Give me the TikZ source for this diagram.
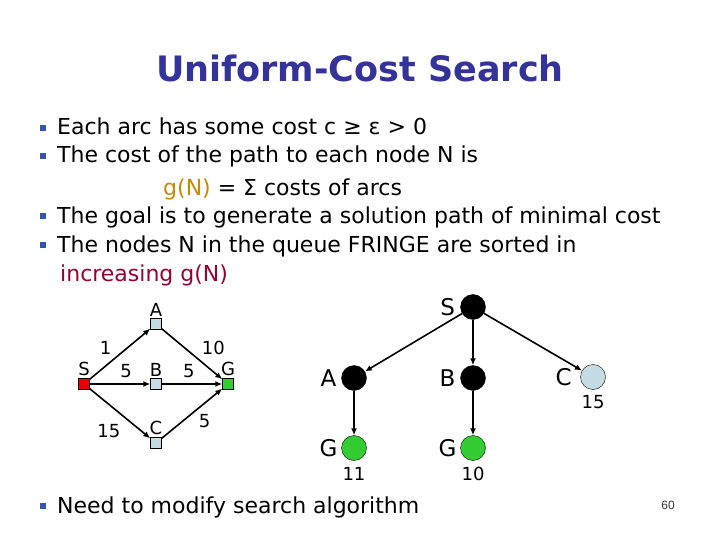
\documentclass[tikz,border=0pt]{standalone}
\usepackage{fontspec}
\setmainfont{DejaVu Sans}
\newfontfamily\pagefont{Liberation Sans}
\usetikzlibrary{arrows.meta}

\definecolor{titleblue}{HTML}{333399}
\definecolor{bulletblue}{HTML}{3355AA}
\definecolor{gncolor}{HTML}{CC8800}
\definecolor{incrcolor}{HTML}{990033}
\definecolor{boxblue}{HTML}{C6DCE4}
\definecolor{goalgreen}{HTML}{33CC33}
\definecolor{startred}{HTML}{EE0000}

\tikzset{
  bulletsq/.style={fill=bulletblue,minimum size=6pt,inner sep=0pt},
  textline/.style={anchor=base west,inner sep=0pt,font=\fontsize{22}{26}\selectfont},
  lbl/.style={inner sep=0pt,font=\fontsize{18}{21}\selectfont},
  tlbl/.style={inner sep=0pt,font=\fontsize{23}{27}\selectfont},
  num/.style={inner sep=0pt,font=\fontsize{18}{21}\selectfont},
  arc/.style={draw,line width=1.6pt,-{Latex[length=7pt,width=6pt]}}
}

\begin{document}
\begin{tikzpicture}[x=1pt,y=-1pt]
  \useasboundingbox (0,0) rectangle (720,540);

  \node[text=titleblue,font=\fontsize{35}{41}\bfseries\selectfont] (title) at (360,68) {Uniform-Cost Search};

  % bullets
  \node[bulletsq] (b1) at (43,128) {};
  \node[textline] (t1) at (57,135) {Each arc has some cost c ≥ ε > 0};
  \node[bulletsq] (b2) at (43,156) {};
  \node[textline] (t2) at (57,163) {The cost of the path to each node N is};
  \node[textline] (t3) at (163,196) {\textcolor{gncolor}{g(N)} = Σ costs of arcs};
  \node[bulletsq] (b4) at (43,216) {};
  \node[textline] (t4) at (57,223) {The goal is to generate a solution path of minimal cost};
  \node[bulletsq] (b5) at (43,245) {};
  \node[textline] (t5) at (57,252) {The nodes N in the queue FRINGE are sorted in};
  \node[textline,text=incrcolor] (t6) at (60,281) {increasing g(N)};
  \node[bulletsq] (b7) at (43,506) {};
  \node[textline] (t7) at (57,513) {Need to modify search algorithm};
  \node[font=\pagefont\fontsize{12}{14}\selectfont,text=black!80] (page) at (668,505) {60};

  % state graph
  \begin{scope}[every node/.style={draw,minimum size=11pt,inner sep=0pt}]
    \node[fill=startred,label={[lbl,yshift=2pt]above:S}] (s) at (84,384) {};
    \node[fill=boxblue,label={[lbl,yshift=2pt]above:A}] (a) at (156,324) {};
    \node[fill=boxblue,label={[lbl,yshift=2pt]above:B}] (b) at (156,384) {};
    \node[fill=boxblue,label={[lbl,yshift=2pt]above:C}] (c) at (156,443) {};
    \node[fill=goalgreen,label={[lbl,yshift=2pt]above:G}] (g) at (228,384) {};
  \end{scope}

  \begin{scope}[every node/.style={lbl}]
    \path (s) edge[arc] node[pos=0.42,above left=3pt] {1} (a);
    \path (s) edge[arc] node[pos=0.6,above=5pt] {5} (b);
    \path (s) edge[arc] node[pos=0.6,below left=5pt] {15} (c);
    \path (a) edge[arc] node[pos=0.6,above right=3pt] {10} (g);
    \path (b) edge[arc] node[pos=0.45,above=5pt] {5} (g);
    \path (c) edge[arc] node[pos=0.55,below right=3pt] {5} (g);
  \end{scope}

  % search tree
  \begin{scope}[every node/.style={circle,draw,minimum size=25pt,inner sep=0pt}]
    \node[fill=black,label={[tlbl]left:S}] (ts) at (473,307) {};
    \node[fill=black,label={[tlbl]left:A}] (ta) at (354,378) {};
    \node[fill=black,label={[tlbl]left:B}] (tb) at (473,378) {};
    \node[fill=boxblue,label={[tlbl,xshift=-4pt]left:C},label={[num,yshift=1pt]below:15}] (tc) at (593,377) {};
    \node[fill=goalgreen,label={[tlbl]left:G},label={[num]below:11}] (tg1) at (354,448) {};
    \node[fill=goalgreen,label={[tlbl]left:G},label={[num]below:10}] (tg2) at (473,448) {};
  \end{scope}

  \path (ts) edge[arc] (ta);
  \path (ts) edge[arc] (tb);
  \path (ts) edge[arc] (tc);
  \path (ta) edge[arc] (tg1);
  \path (tb) edge[arc] (tg2);

\end{tikzpicture}
\end{document}
